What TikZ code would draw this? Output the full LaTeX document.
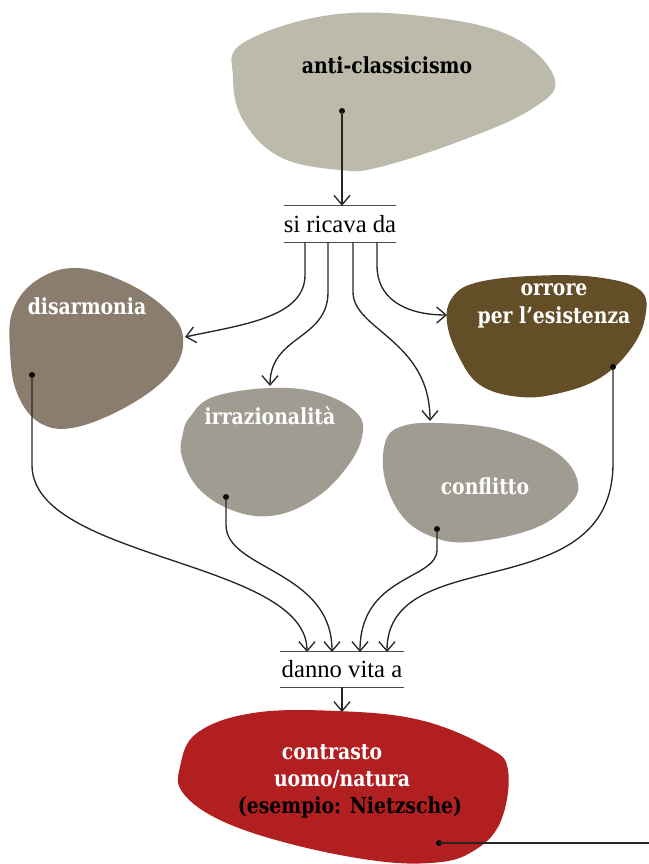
\documentclass[tikz,border=0pt]{standalone}
\usepackage{fontspec}
\setmainfont{Liberation Serif}
\newfontfamily\blobfont{DejaVu Serif}[FakeStretch=0.85]
\usetikzlibrary{arrows.meta}
\definecolor{cTop}{HTML}{BCBAAA}
\definecolor{cDis}{HTML}{8B7D6E}
\definecolor{cOrr}{HTML}{634E27}
\definecolor{cGray}{HTML}{A09C91}
\definecolor{cRed}{HTML}{B21F21}
\tikzset{
  conn/.style={line width=1pt, black!85},
  arr/.style={conn, -{Straight Barb[length=7pt,width=12pt,line width=1pt]}},
  rule/.style={line width=1.1pt, black!70},
  blobtxt/.style={font=\blobfont\fontsize{16.6}{20.5}\selectfont\bfseries, align=center, inner sep=0pt},
  reltxt/.style={font=\fontsize{18.5}{20.5}\selectfont, inner sep=0pt},
  dotc/.style={black}
}
\begin{document}
\begin{tikzpicture}[x=0.75pt,y=-0.75pt]
\useasboundingbox (0,0) rectangle (649,864);
% blobs
\fill[cTop] plot[smooth cycle, tension=0.65] coordinates {(243,43) (330,15) (430,17) (513,37) (555,80) (530,110) (463,140) (380,167) (340,170) (280,157) (243,120) (233,77)};
\fill[cDis] plot[smooth cycle, tension=0.65] coordinates {(13,310) (37,280) (77,268) (127,283) (167,310) (183,337) (173,370) (133,403) (77,427) (40,423) (17,393) (10,350)};
\fill[cOrr] plot[smooth cycle, tension=0.65] coordinates {(475,283) (530,276) (595,277) (640,290) (645,318) (630,350) (600,378) (560,393) (520,397) (480,385) (458,355) (447,322) (452,298)};
\fill[cGray] plot[smooth cycle, tension=0.65] coordinates {(190,417) (213,397) (270,388) (320,393) (357,413) (362,437) (347,467) (317,497) (277,515) (237,512) (200,490) (182,457) (183,433)};
\fill[cGray] plot[smooth cycle, tension=0.65] coordinates {(385,443) (400,427) (437,423) (503,430) (557,453) (578,483) (567,507) (530,530) (470,542) (433,537) (403,517) (385,480)};
\fill[cRed] plot[smooth cycle, tension=0.65] coordinates {(180,767) (197,733) (253,713) (337,711) (420,720) (487,747) (508,770) (500,823) (470,853) (430,863) (370,860) (287,843) (220,820) (183,793)};
% texts
\node[blobtxt, text=black] (tAnti) at (387,65) {anti-classicismo};
\node[blobtxt, text=white] (tDis) at (87,306) {disarmonia};
\node[blobtxt, text=white] (tOrr) at (554,306) {orrore\\per l’esistenza};
\node[blobtxt, text=white] (tIrr) at (270,416) {irrazionalità};
\node[blobtxt, text=white] (tCon) at (485,486) {conflitto};
\node[blobtxt, text=white] (tR1) at (332,752) {contrasto};
\node[blobtxt, text=white] (tR2) at (342,779) {uomo/natura};
\node[blobtxt, text=black] (tR3) at (350,807) {(esempio: Nietzsche)};
% relation labels
\node[reltxt, minimum width=82.5pt, minimum height=27pt] (ricava) at (340,224) {si ricava da};
\node[reltxt, minimum width=93pt, minimum height=26.25pt] (danno) at (342,669.5) {danno vita a};
\draw[rule] (ricava.north west) -- (ricava.north east);
\draw[rule] (ricava.south west) -- (ricava.south east);
\draw[rule] (danno.north west) -- (danno.north east);
\draw[rule] (danno.south west) -- (danno.south east);
% coordinates
\coordinate (dTop) at (342,111);
\coordinate (dDis) at (32,375);
\coordinate (dOrr) at (613,367);
\coordinate (dIrr) at (226,497);
\coordinate (dCon) at (437,529);
\coordinate (dRed) at (439,843);
\coordinate (eRight) at (649,843);
\coordinate (b1) at (305,242);
\coordinate (b2) at (328,242);
\coordinate (b3) at (353,242);
\coordinate (b4) at (377,242);
\coordinate (tgDis) at (185,337);
\coordinate (tgIrr) at (270,386);
\coordinate (tgCon) at (430,421);
\coordinate (tgOrr) at (447,315);
\coordinate (a1) at (307,652);
\coordinate (a2) at (332,652);
\coordinate (a3) at (360,652);
\coordinate (a4) at (387,652);
\coordinate (tgRed) at (342,712);
% dots
\foreach \d in {dTop,dDis,dOrr,dIrr,dCon,dRed} \fill[dotc] (\d) circle (2.2pt);
% connectors
\draw[arr] (dTop) -- (dTop |- ricava.north);
\draw[arr] (b1) -- (305,275) .. controls (305,318) and (240,325) .. (tgDis);
\draw[arr] (b2) -- (328,292) .. controls (328,340) and (270,335) .. (tgIrr);
\draw[arr] (b3) -- (353,292) .. controls (353,330) and (430,340) .. (tgCon);
\draw[arr] (b4) -- (377,265) .. controls (377,305) and (415,315) .. (tgOrr);
\draw[arr] (dDis) -- (32,465) .. controls (32,560) and (307,560) .. (a1);
\draw[arr] (dIrr) -- (226,525) .. controls (226,570) and (332,570) .. (a2);
\draw[arr] (dCon) -- (437,550) .. controls (437,580) and (360,575) .. (a3);
\draw[arr] (dOrr) -- (613,463) .. controls (613,610) and (387,540) .. (a4);
\draw[arr] (danno.south) -- (tgRed);
\draw[conn] (dRed) -- (eRight);
\end{tikzpicture}
\end{document}
